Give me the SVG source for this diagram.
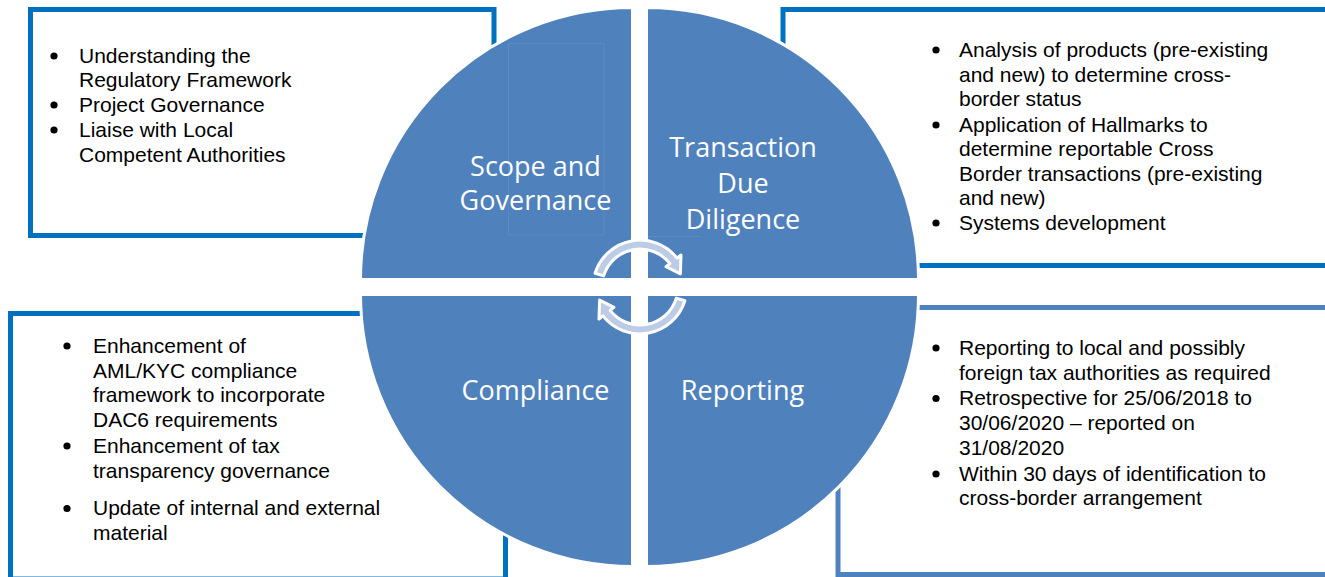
<svg xmlns="http://www.w3.org/2000/svg" xmlns:xlink="http://www.w3.org/1999/xlink" width="1325" height="577" viewBox="0 0 1325 577">
<style>
.box{fill:#fff;stroke:#0070C0;stroke-width:5}
.box.light{stroke:#4F81BD}
.quad{fill:#4F81BD;stroke:#fff;stroke-width:3}
.faint{fill:none;stroke:#5B8AC4;stroke-width:1}
.lbl{font-family:"Open Sans","Noto Sans",sans-serif;font-size:27px;fill:#fff;text-anchor:middle}
.txt{font-family:"Liberation Sans",Arial,sans-serif;font-size:21px;fill:#000}
.bul{fill:#000}
.arr{fill:#BDCCE6;stroke:#fff;stroke-width:3;stroke-linejoin:round}
</style>
<defs>
<path id="cyc" d="M 595.1 273.3 A 47 47 0 0 1 677.0 258.1 L 681 255 L 680.4 273.9 L 666 266.7 L 669.9 263.6 A 38 38 0 0 0 603.7 275.9 Z"/>
</defs>

<g id="box-scope">
<rect class="box" x="30.5" y="9.5" width="463.5" height="226"/>
<circle class="bul" cx="54" cy="56" r="3.6"/>
<circle class="bul" cx="54" cy="105" r="3.6"/>
<circle class="bul" cx="54" cy="130" r="3.6"/>
<text class="txt" x="79" y="63">Understanding the</text>
<text class="txt" x="79" y="87">Regulatory Framework</text>
<text class="txt" x="79" y="112">Project Governance</text>
<text class="txt" x="79" y="137">Liaise with Local</text>
<text class="txt" x="79" y="162">Competent Authorities</text>
</g>

<g id="box-due-diligence">
<rect class="box" x="783" y="9.5" width="550" height="256"/>
<circle class="bul" cx="936" cy="50" r="3.6"/>
<circle class="bul" cx="936" cy="125" r="3.6"/>
<circle class="bul" cx="936" cy="223" r="3.6"/>
<text class="txt" x="959" y="57">Analysis of products (pre-existing</text>
<text class="txt" x="959" y="81.5">and new) to determine cross-</text>
<text class="txt" x="959" y="106">border status</text>
<text class="txt" x="959" y="132">Application of Hallmarks to</text>
<text class="txt" x="959" y="156">determine reportable Cross</text>
<text class="txt" x="959" y="181">Border transactions (pre-existing</text>
<text class="txt" x="959" y="205">and new)</text>
<text class="txt" x="959" y="230">Systems development</text>
</g>

<g id="box-compliance">
<rect class="box" x="10.5" y="313.5" width="495" height="265.5"/>
<circle class="bul" cx="67" cy="346" r="3.6"/>
<circle class="bul" cx="67" cy="446" r="3.6"/>
<circle class="bul" cx="67" cy="508.5" r="3.6"/>
<text class="txt" x="93" y="353">Enhancement of</text>
<text class="txt" x="93" y="377.5">AML/KYC compliance</text>
<text class="txt" x="93" y="402">framework to incorporate</text>
<text class="txt" x="93" y="427">DAC6 requirements</text>
<text class="txt" x="93" y="453">Enhancement of tax</text>
<text class="txt" x="93" y="477.5">transparency governance</text>
<text class="txt" x="93" y="515">Update of internal and external</text>
<text class="txt" x="93" y="540">material</text>
</g>

<g id="box-reporting">
<rect class="box light" x="838" y="307.5" width="495" height="267"/>
<circle class="bul" cx="936" cy="348" r="3.6"/>
<circle class="bul" cx="936" cy="398.5" r="3.6"/>
<circle class="bul" cx="936" cy="474" r="3.6"/>
<text class="txt" x="959" y="355">Reporting to local and possibly</text>
<text class="txt" x="959" y="379.5">foreign tax authorities as required</text>
<text class="txt" x="959" y="405">Retrospective for 25/06/2018 to</text>
<text class="txt" x="959" y="430">30/06/2020 – reported on</text>
<text class="txt" x="959" y="455">31/08/2020</text>
<text class="txt" x="959" y="481">Within 30 days of identification to</text>
<text class="txt" x="959" y="505">cross-border arrangement</text>
</g>

<g id="q-scope">
<path class="quad" d="M 632.5 279.5 L 360.5 279.5 A 272 272 0 0 1 632.5 7.5 Z"/>
<rect class="faint" x="508.5" y="43.5" width="95.5" height="191.5"/>
<text class="lbl" x="535.5" y="176">Scope and</text>
<text class="lbl" x="535.5" y="210">Governance</text>
</g>

<g id="q-due-diligence">
<path class="quad" d="M 646.5 279.5 L 646.5 7.5 A 272 272 0 0 1 918.5 279.5 Z"/>
<line class="faint" x1="648" y1="236.5" x2="700" y2="236.5"/>
<text class="lbl" x="743" y="157">Transaction</text>
<text class="lbl" x="743" y="193">Due</text>
<text class="lbl" x="743" y="229">Diligence</text>
</g>

<g id="q-compliance">
<path class="quad" d="M 632.5 294.5 L 632.5 566.5 A 272 272 0 0 1 360.5 294.5 Z"/>
<text class="lbl" x="535.5" y="400">Compliance</text>
</g>

<g id="q-reporting">
<path class="quad" d="M 646.5 294.5 L 918.5 294.5 A 272 272 0 0 1 646.5 566.5 Z"/>
<text class="lbl" x="742.5" y="400">Reporting</text>
</g>

<g id="connectors">
<use xlink:href="#cyc" href="#cyc" class="arr"/>
<use xlink:href="#cyc" href="#cyc" class="arr" transform="rotate(180 640 287)"/>
</g>
</svg>
